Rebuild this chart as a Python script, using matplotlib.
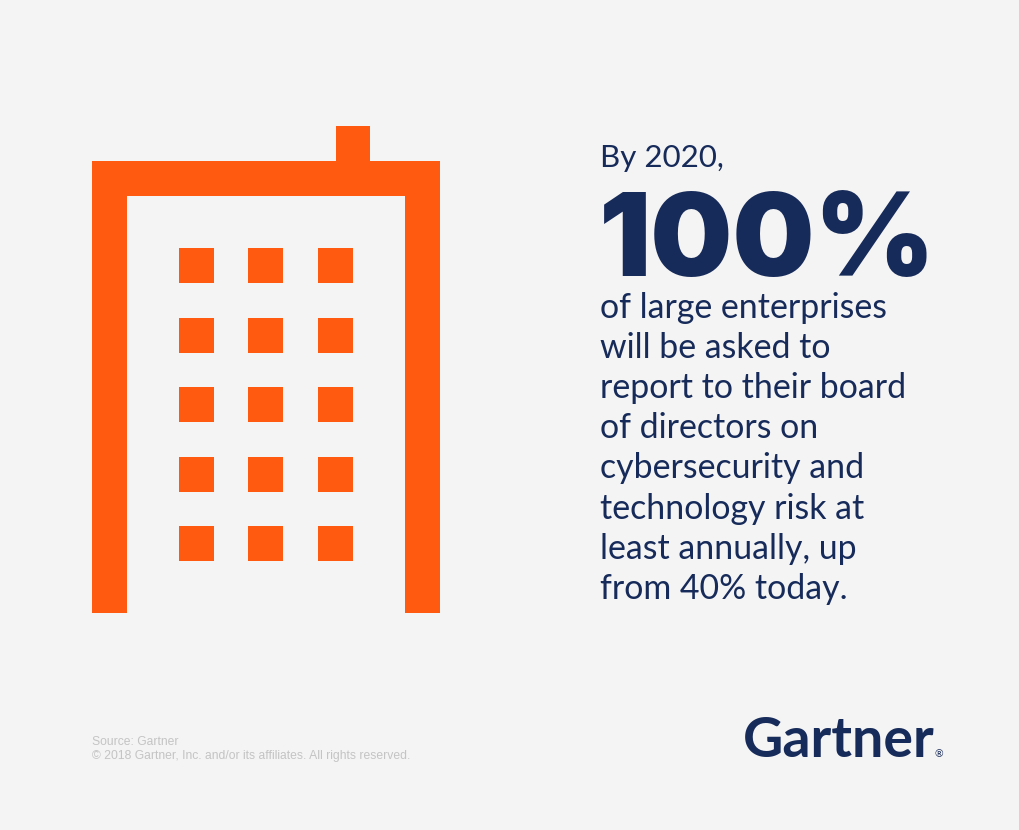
import matplotlib
matplotlib.use("Agg")
import matplotlib.pyplot as plt
from matplotlib.patches import Rectangle

# couleurs
fond = '#f4f4f4'
orange = '#ff5a0f'
bleu = '#172b5a'
gris = '#c4c4c4'

# textes
intro = 'By 2020,'
chiffre = '100%'
lignes = ['of large enterprises', 'will be asked to', 'report to their board', 'of directors on',
          'cybersecurity and', 'technology risk at', 'least annually, up', 'from 40% today.']
source = ['Source: Gartner', '© 2018 Gartner, Inc. and/or its affiliates. All rights reserved.']
logo = 'Gartner'

# pictogramme de l'immeuble
colonnes = [179, 248, 318]
rangees = [248, 318, 387, 457, 526]
cote = 35
murs = [(92, 161, 348, 35), (92, 161, 35, 452), (405, 161, 35, 452), (336, 126, 34, 36)]

fig = plt.figure(figsize=(10.2, 8.3), dpi=100, facecolor=fond)
ax = fig.add_axes([0, 0, 1, 1])
ax.set_xlim(0, 1020)
ax.set_ylim(830, 0)
ax.axis('off')

for x, y, w, h in murs:
    ax.add_patch(Rectangle((x, y), w, h, fc=orange, ec='none'))
for x in colonnes:
    for y in rangees:
        ax.add_patch(Rectangle((x, y), cote, cote, fc=orange, ec='none'))

ax.text(600, 167, intro, family='Lato', fontsize=22.5, color=bleu, va='baseline')
ax.text(599, 276, chiffre, family='Inter', weight='black', fontsize=83, color=bleu, va='baseline')
for i, ligne in enumerate(lignes):
    ax.text(600, 318 + i * 40.1, ligne, family='Lato', fontsize=24.4, color=bleu, va='baseline')

ax.text(92, 745, source[0], family='Liberation Sans', fontsize=8.7, color=gris, va='baseline')
ax.text(92, 759, source[1], family='Liberation Sans', fontsize=8.7, color=gris, va='baseline')

ax.text(743, 757, logo, family='Lato', weight='bold', fontsize=40, color=bleu, va='baseline')
ax.text(939, 757, '®', family='Lato', fontsize=7.5, color=bleu, ha='center', va='baseline')

fig.savefig('out.png', dpi=100, facecolor=fond)
